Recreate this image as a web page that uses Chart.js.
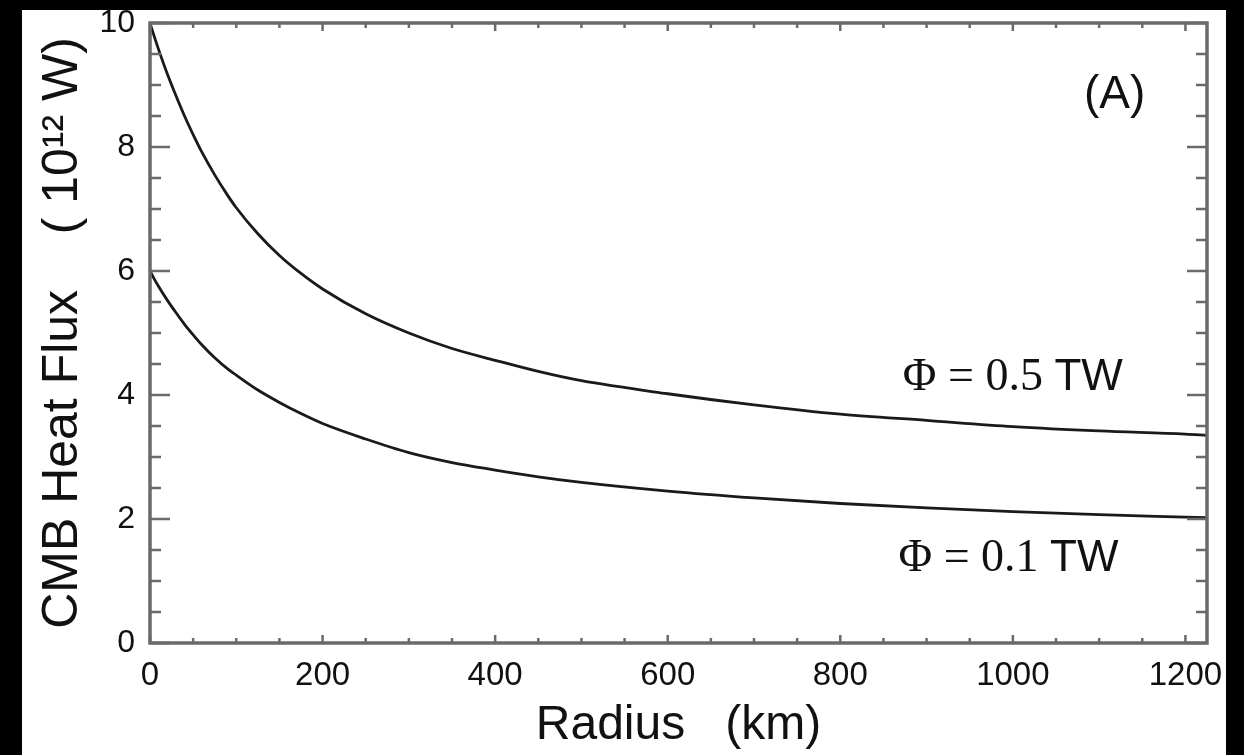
<!DOCTYPE html>
<html>
<head>
<meta charset="utf-8">
<script src="https://cdn.jsdelivr.net/npm/chart.js@4/dist/chart.umd.min.js"></script>
<style>
  html, body { margin: 0; padding: 0; background: #000; overflow: hidden; }
  #wrap { position: absolute; left: 0; top: 0; width: 1244px; height: 755px; }
</style>
</head>
<body>
<div id="wrap"><canvas id="c" width="1244" height="755"></canvas></div>
<script>
// ---- data ----
const radiusKm  = [0, 5, 10, 20, 30, 40, 50, 60, 75, 90, 100, 125, 150, 175, 200, 250, 300, 350, 400, 450, 500, 600, 700, 800, 900, 1000, 1100, 1200, 1225];
const fluxPhi05 = [10.0, 9.78, 9.57, 9.18, 8.83, 8.50, 8.20, 7.92, 7.55, 7.22, 7.02, 6.60, 6.25, 5.96, 5.71, 5.31, 5.00, 4.75, 4.56, 4.38, 4.23, 4.02, 3.84, 3.69, 3.59, 3.49, 3.42, 3.37, 3.35];
const fluxPhi01 = [6.0, 5.87, 5.75, 5.53, 5.33, 5.14, 4.97, 4.81, 4.60, 4.42, 4.32, 4.08, 3.88, 3.70, 3.54, 3.29, 3.07, 2.91, 2.79, 2.68, 2.59, 2.45, 2.34, 2.25, 2.18, 2.12, 2.07, 2.03, 2.02];
const xTicks = [0, 200, 400, 600, 800, 1000, 1200];
const yTicks = [0, 2, 4, 6, 8, 10];
const xMinorStep = 50;
const yMinorStep = 0.5;
const phiValues = ['0.5', '0.1'];
const panelLabel = '(A)';
const xTitle = 'Radius   (km)';
const yTitle = 'CMB Heat Flux    ( 10\u00B9\u00B2 W)';

const toPoints = (xs, ys) => xs.map((x, i) => ({ x: x, y: ys[i] }));

const SERIF = '"Liberation Serif", "Times New Roman", serif';
const SANS = '"Liberation Sans", Arial, sans-serif';

// annotation anchors in data coordinates; each note is drawn in segments
const notes = [
  { r: 1118, v: 8.83, parts: [{ t: panelLabel, f: '46px ' + SANS }] },
  { r: 1000, v: 4.28, parts: [{ t: '\u03A6 = ' + phiValues[0] + ' ', f: '46px ' + SERIF }, { t: 'TW', f: '44px ' + SANS }] },
  { r: 995, v: 1.36, parts: [{ t: '\u03A6 = ' + phiValues[1] + ' ', f: '46px ' + SERIF }, { t: 'TW', f: '44px ' + SANS }] }
];

const framePlugin = {
  id: 'frame',
  beforeDraw(chart) {
    const ctx = chart.ctx;
    ctx.save();
    ctx.fillStyle = '#000';
    ctx.fillRect(0, 0, 1244, 755);
    ctx.fillStyle = '#fff';
    ctx.fillRect(22, 10, 1204, 745);
    ctx.restore();
  },
  afterDatasetsDraw(chart) {
    const { ctx, chartArea: a, scales: { x, y } } = chart;
    ctx.save();
    ctx.strokeStyle = '#6a6a6a';
    ctx.lineWidth = 3.5;
    ctx.strokeRect(a.left, a.top, a.right - a.left, a.bottom - a.top);
    ctx.lineWidth = 2.5;
    for (let v = y.min; v <= y.max + 1e-9; v += yMinorStep) {
      const py = y.getPixelForValue(v);
      const major = yTicks.some(t => Math.abs(t - v) < 1e-6);
      const len = major ? 20 : 11;
      ctx.beginPath();
      ctx.moveTo(a.left, py); ctx.lineTo(a.left + len, py);
      ctx.moveTo(a.right, py); ctx.lineTo(a.right - len, py);
      ctx.stroke();
    }
    for (let r = 0; r <= x.max + 1e-9; r += xMinorStep) {
      const px = x.getPixelForValue(r);
      const major = xTicks.includes(r);
      const len = major ? 8 : 5;
      ctx.beginPath();
      ctx.moveTo(px, a.bottom); ctx.lineTo(px, a.bottom - len);
      ctx.moveTo(px, a.top); ctx.lineTo(px, a.top + len);
      ctx.stroke();
    }
    ctx.restore();
  },
  afterDraw(chart) {
    const { ctx, scales: { x, y } } = chart;
    ctx.save();
    ctx.fillStyle = '#111';
    ctx.textAlign = 'left';
    ctx.textBaseline = 'middle';
    notes.forEach(n => {
      let total = 0;
      n.parts.forEach(p => { ctx.font = p.f; total += ctx.measureText(p.t).width; });
      let px = x.getPixelForValue(n.r) - total / 2;
      const py = y.getPixelForValue(n.v);
      n.parts.forEach(p => { ctx.font = p.f; ctx.fillText(p.t, px, py); px += ctx.measureText(p.t).width; });
    });
    ctx.fillStyle = '#000';
    ctx.fillRect(1226, 0, 18, 755);
    ctx.restore();
  }
};

new Chart(document.getElementById('c'), {
  type: 'line',
  data: {
    datasets: [
      { label: '\u03A6 = 0.5 TW', data: toPoints(radiusKm, fluxPhi05), borderColor: '#1a1a1a', borderWidth: 2.8, pointRadius: 0, cubicInterpolationMode: 'monotone', fill: false },
      { label: '\u03A6 = 0.1 TW', data: toPoints(radiusKm, fluxPhi01), borderColor: '#1a1a1a', borderWidth: 2.8, pointRadius: 0, cubicInterpolationMode: 'monotone', fill: false }
    ]
  },
  options: {
    responsive: false,
    animation: false,
    events: [],
    layout: { padding: { top: 17, right: 37, bottom: 0, left: 0 } },
    plugins: { legend: { display: false }, tooltip: { enabled: false } },
    scales: {
      x: {
        type: 'linear', min: 0, max: 1225,
        afterBuildTicks: s => { s.ticks = xTicks.map(v => ({ value: v })); },
        afterFit: s => { s.height = 112; },
        grid: { display: false },
        border: { display: false },
        ticks: { color: '#111', padding: 8, maxRotation: 0, autoSkip: false,
                 callback: v => String(v),
                 font: { family: SANS, size: 33, lineHeight: 1.0 } },
        title: { display: true, text: xTitle, color: '#111', padding: { top: 0, bottom: 0 },
                 font: { family: SANS, size: 48, lineHeight: 1.2 } }
      },
      y: {
        type: 'linear', min: 0, max: 10,
        afterBuildTicks: s => { s.ticks = yTicks.map(v => ({ value: v })); },
        afterFit: s => { s.width = 150; },
        grid: { display: false },
        border: { display: false },
        ticks: { color: '#111', padding: 7, autoSkip: false,
                 callback: v => String(v),
                 font: { family: SANS, size: 32, lineHeight: 1.0 } },
        title: { display: true, text: yTitle, color: '#111', padding: { top: 33, bottom: 0 },
                 font: { family: SANS, size: 50, lineHeight: 1.2 } }
      }
    }
  },
  plugins: [framePlugin]
});
</script>
</body>
</html>
